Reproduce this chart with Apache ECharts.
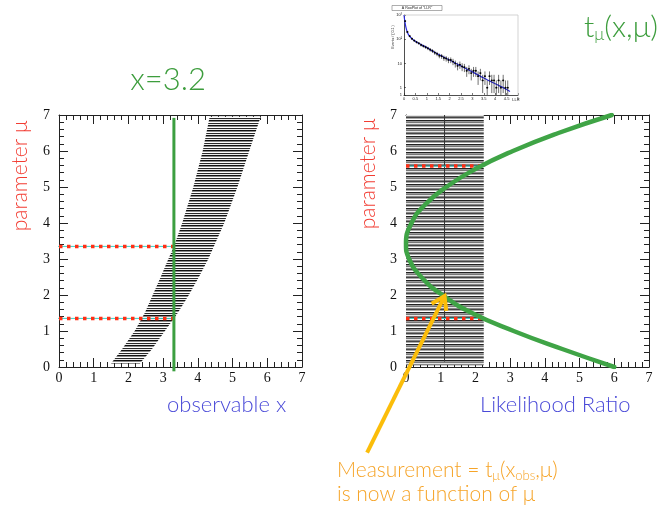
<!DOCTYPE html>
<html>
<head>
<meta charset="utf-8">
<script src="https://cdn.jsdelivr.net/npm/echarts@6/dist/echarts.min.js"></script>
<style>
html, body { margin: 0; padding: 0; background: #fff; }
#c { width: 664px; height: 508px; }
</style>
</head>
<body>
<div id="c"></div>
<script>
// ---- Neyman belt: acceptance interval in x for each value of mu ----
const beltMu   = [0.1, 0.5, 1.0, 1.5, 2.0, 2.5, 3.0, 3.35, 4.0, 5.0, 6.0, 6.95];
const beltLow  = [1.50, 1.82, 2.18, 2.47, 2.70, 2.93, 3.15, 3.31, 3.55, 3.87, 4.14, 4.34];
const beltHigh = [2.33, 2.68, 3.05, 3.42, 3.74, 4.03, 4.30, 4.46, 4.76, 5.14, 5.48, 5.81];
const xObs = 3.31;                       // observed value of x
const xObsMuRange = [-0.12, 6.92];
const muLimitsLeft = [3.35, 1.35];       // where x_obs meets the belt edges

// ---- Likelihood-ratio side ----
const lrBandMu   = [0.05, 7.0];
const lrBandLow  = [0, 0];
const lrBandHigh = [2.24, 2.24];         // acceptance cut on t
const lrCutLineT = 1.11;
const lrCutLineMu = [0.15, 7.0];
const muLimitsRight = [5.58, 1.35];
const lrRedEnd = 2.28;
const curveMu = [0, 0.5, 1.0, 1.5, 2.0, 2.5, 3.0, 3.42, 4.0, 4.5, 5.0, 5.5, 6.0, 6.5, 7.0];
const curveT  = [6.0, 4.5, 3.1, 1.9, 1.05, 0.44, 0.09, 0, 0.16, 0.54, 1.16, 2.0, 3.08, 4.39, 5.93];

// arrow: from the caption up to the measured point on the curve
const arrowTip  = [1.11, 1.97];
const arrowTail = [-1.12, -2.38];

// ---- Small RooPlot of the LLR distribution ----
const llrBins = [0.05,0.15,0.25,0.35,0.45,0.55,0.65,0.75,0.85,0.95,1.05,1.15,1.25,1.35,1.45,1.55,1.65,1.75,1.85,1.95,
                 2.05,2.15,2.25,2.35,2.45,2.55,2.65,2.75,2.85,2.95,3.05,3.15,3.25,3.35,3.45,3.55,3.65,3.75,3.85,3.95,
                 4.05,4.15,4.25,4.35,4.45,4.55];
const llrCounts = [560,200,135,105,88,76,68,58,52,47,42,37,33,28,25,21,20,17,16,14,
                   14,12,10,8,9,7.5,7,5,6,4,5,5,3,4,2,3,1,3,2,2,
                   1,2,1,2,1,1];
const llrErrors = [24,14,12,10,9,9,8,8,7,7,6.5,6,5.7,5.3,5,4.6,4.5,4.1,4,3.7,
                   3.7,3.5,3.2,2.8,3,2.7,2.6,2.2,2.4,2,2.2,2.2,1.7,2,1.4,1.7,1,1.7,1.4,1.4,
                   1,1.4,1,1.4,1,1];
const llrFitX = [0, 0.03, 0.08, 0.15, 0.25, 0.4, 0.6, 1.0, 1.5, 2.0, 2.5, 3.0, 3.5, 4.0, 4.5, 4.65];
const llrFitY = [1000, 600, 320, 190, 130, 95, 72, 45, 24, 14, 7.8, 4.5, 2.5, 1.45, 0.85, 0.7];
const llrTicks = ['0','0.5','1','1.5','2','2.5','3','3.5','4','4.5','5'];

const chart = echarts.init(document.getElementById('c'), null, { renderer: 'canvas' });

function stripes(rows) {
  const cv = document.createElement('canvas');
  cv.width = 4; cv.height = rows.length;
  const g = cv.getContext('2d');
  rows.forEach((col, i) => { g.fillStyle = col; g.fillRect(0, i, 4, 1); });
  return { image: cv, repeat: 'repeat' };
}
const beltFill = stripes(['#111', '#8a8a8a', '#fff', '#2a2a2a', '#eee']);
const lrFill   = stripes(['#222', '#999', '#777', '#e6e6e6', '#888', '#444', '#aaa', '#fff']);

const serif = '"Liberation Serif", "DejaVu Serif", serif';
const sans = 'Lato, "Liberation Sans", "Noto Sans", sans-serif';

function xAx(grid, pos, labels) {
  return {
    type: 'value', gridIndex: grid, position: pos, min: 0, max: 7, interval: 1,
    axisLine: { show: true, onZero: false, lineStyle: { color: '#222', width: 1 } },
    axisTick: { show: true, inside: true, length: 9, lineStyle: { color: '#222' } },
    minorTick: { show: true, splitNumber: 5, length: 5, lineStyle: { color: '#222' } },
    splitLine: { show: false }, minorSplitLine: { show: false },
    axisLabel: labels ? { show: true, fontFamily: serif, fontSize: 14, color: '#111', margin: 4 } : { show: false }
  };
}
function yAx(grid, pos, labels) {
  const a = xAx(grid, pos, labels);
  if (labels) a.axisLabel.margin = 9;
  return a;
}

function bandRenderer(mu, lo, hi, fill) {
  return function (params, api) {
    if (params.dataIndex !== 0) return null;
    const pts = [];
    for (let i = 0; i < mu.length; i++) pts.push(api.coord([lo[i], mu[i]]));
    for (let i = mu.length - 1; i >= 0; i--) pts.push(api.coord([hi[i], mu[i]]));
    return { type: 'polygon', shape: { points: pts }, style: { fill: fill, stroke: null } };
  };
}

function hLine(xi, yi, x0, x1, mu, style, z) {
  return {
    type: 'line', xAxisIndex: xi, yAxisIndex: yi, data: [[x0, mu], [x1, mu]],
    showSymbol: false, silent: true, clip: false, z: z, animation: false,
    lineStyle: style
  };
}
const cyan = { color: '#3ccfc6', width: 1 };
const redDots = { color: '#ff2e14', width: 3.5, type: [3.5, 4.5], cap: 'butt' };

const series = [];
// left: belt
series.push({
  type: 'custom', xAxisIndex: 0, yAxisIndex: 0, data: [[0, 0]], z: 1, silent: true,
  renderItem: bandRenderer(beltMu, beltLow, beltHigh, beltFill), animation: false
});
muLimitsLeft.forEach(m => {
  series.push(hLine(0, 0, -0.04, xObs, m, cyan, 2));
  series.push(hLine(0, 0, 0, xObs, m, redDots, 3));
});
series.push({
  type: 'line', xAxisIndex: 0, yAxisIndex: 0, clip: false, showSymbol: false, z: 4, animation: false,
  data: [[xObs, xObsMuRange[0]], [xObs, xObsMuRange[1]]],
  lineStyle: { color: '#3c9f40', width: 3 }
});
// right: LR acceptance band
series.push({
  type: 'custom', xAxisIndex: 2, yAxisIndex: 2, data: [[0, 0]], z: 1, silent: true,
  renderItem: bandRenderer(lrBandMu, lrBandLow, lrBandHigh, lrFill), animation: false
});
series.push({
  type: 'line', xAxisIndex: 2, yAxisIndex: 2, showSymbol: false, z: 2, animation: false,
  data: [[lrCutLineT, lrCutLineMu[0]], [lrCutLineT, lrCutLineMu[1]]],
  lineStyle: { color: '#333', width: 1 }
});
muLimitsRight.forEach(m => {
  series.push(hLine(2, 2, 0, lrRedEnd, m, cyan, 2));
  series.push(hLine(2, 2, 0, lrRedEnd, m, redDots, 3));
});
series.push({
  type: 'line', xAxisIndex: 2, yAxisIndex: 2, showSymbol: false, smooth: 0.5, z: 4, animation: false,
  data: curveT.map((t, i) => [t, curveMu[i]]),
  lineStyle: { color: '#3fa446', width: 4.5, cap: 'round' }
});
// inset: fit curve and data points with errors
series.push({
  type: 'line', xAxisIndex: 4, yAxisIndex: 4, showSymbol: false, smooth: 0.3, z: 3, animation: false,
  data: llrFitX.map((x, i) => [x, llrFitY[i]]),
  lineStyle: { color: '#2a2adf', width: 1.2 }
});
series.push({
  type: 'custom', xAxisIndex: 4, yAxisIndex: 4, z: 4, animation: false,
  data: llrBins.map((x, i) => [x, llrCounts[i], llrErrors[i]]),
  renderItem: function (params, api) {
    const x = api.value(0), n = api.value(1), e = api.value(2);
    const c = api.coord([x, n]);
    const top = api.coord([x, n + e]);
    const lo = n - e > 0.5 ? api.coord([x, n - e])[1] : params.coordSys.y + params.coordSys.height;
    return {
      type: 'group', children: [
        { type: 'line', shape: { x1: c[0], y1: top[1], x2: c[0], y2: lo }, style: { stroke: '#111', lineWidth: 0.6 } },
        { type: 'line', shape: { x1: c[0] - 1, y1: c[1], x2: c[0] + 1, y2: c[1] }, style: { stroke: '#111', lineWidth: 0.6 } },
        { type: 'circle', shape: { cx: c[0], cy: c[1], r: 0.9 }, style: { fill: '#000' } }
      ]
    };
  }
});

const option = {
  animation: false,
  backgroundColor: '#fff',
  grid: [
    { left: 59, top: 115, width: 243, height: 252 },
    { left: 406, top: 115, width: 243, height: 252 },
    { left: 404, top: 15, width: 114, height: 80 }
  ],
  xAxis: [
    xAx(0, 'bottom', true), xAx(0, 'top', false),
    xAx(1, 'bottom', true), xAx(1, 'top', false),
    {
      type: 'value', gridIndex: 2, min: 0, max: 5, interval: 0.5,
      axisLine: { lineStyle: { color: '#222', width: 0.8 } },
      axisTick: { inside: true, length: 2, lineStyle: { color: '#222', width: 0.6 } },
      splitLine: { show: false },
      axisLabel: { fontSize: 4, fontFamily: 'Liberation Sans', color: '#222', margin: 2,
        formatter: (v) => llrTicks[Math.round(v * 2)] }
    }
  ],
  yAxis: [
    yAx(0, 'left', true), yAx(0, 'right', false),
    yAx(1, 'left', true), yAx(1, 'right', false),
    {
      type: 'log', gridIndex: 2, min: 0.5, max: 1000, logBase: 10,
      axisLine: { show: true, onZero: false, lineStyle: { color: '#222', width: 0.8 } },
      axisTick: { inside: true, length: 2, lineStyle: { color: '#222', width: 0.6 } },
      splitLine: { show: false },
      axisLabel: { fontSize: 4, fontFamily: 'Liberation Sans', color: '#222', margin: 2,
        formatter: (v) => ({ 1: '1', 10: '10', 100: '10²', 1000: '10³' }[Math.round(v)] || '') }
    }
  ],
  series: series
};
chart.setOption(option);

// ---- annotations: text and arrow ----
const fr = { xAxisIndex: 2, yAxisIndex: 2 };
const tip = chart.convertToPixel(fr, arrowTip);
const tail = chart.convertToPixel(fr, arrowTail);
const dx = tail[0] - tip[0], dy = tail[1] - tip[1];
const len = Math.hypot(dx, dy), ux = dx / len, uy = dy / len;
const arm = 15, ang = 33 * Math.PI / 180;
function rot(a) { return [tip[0] + arm * (ux * Math.cos(a) - uy * Math.sin(a)), tip[1] + arm * (ux * Math.sin(a) + uy * Math.cos(a))]; }
const armA = rot(ang), armB = rot(-ang);
const gold = '#fbbd0a';

const leftFrame = chart.convertToPixel({ gridIndex: 2 }, [0, 1000]);
const rightFrame = chart.convertToPixel({ gridIndex: 2 }, [5, 0.5]);

chart.setOption({
  graphic: [
    // inset frame (top and right sides) and captions
    { type: 'polyline', z: 10, shape: { points: [[leftFrame[0], leftFrame[1]], [rightFrame[0], leftFrame[1]], [rightFrame[0], rightFrame[1]]] },
      style: { stroke: '#c8c8c8', lineWidth: 0.8, fill: null } },
    { type: 'rect', z: 10, shape: { x: 392, y: 5.5, width: 50, height: 5 }, style: { fill: '#fff', stroke: '#777', lineWidth: 0.6 } },
    { type: 'text', z: 11, style: { text: 'A RooPlot of "LLR"', x: 417, y: 8, fontSize: 3.6, fontFamily: 'Liberation Sans', fill: '#222', align: 'center', verticalAlign: 'middle' } },
    { type: 'text', z: 11, rotation: Math.PI / 2, x: 393, y: 37, style: { text: 'Events / ( 0.1 )', fontSize: 3.6, fontFamily: 'Liberation Sans', fill: '#222', align: 'center', verticalAlign: 'middle' } },
    { type: 'text', z: 11, style: { text: 'LLR', x: 516, y: 100, fontSize: 4, fontFamily: 'Liberation Sans', fill: '#222', align: 'center', verticalAlign: 'middle' } },

    // slide titles
    { type: 'text', z: 20, style: { text: 'x=3.2', x: 168, y: 80, fontSize: 31, fontFamily: sans, fontWeight: 300, fill: '#3d9d3d', align: 'center', verticalAlign: 'middle' } },
    { type: 'text', z: 20, style: {
        text: '{m|t}{s|μ}{m|(x,μ)}', x: 584, y: 27, align: 'left', verticalAlign: 'middle',
        rich: {
          m: { fontSize: 30, fontFamily: sans, fontWeight: 300, fill: '#3d9d3d', lineHeight: 32 },
          s: { fontSize: 17, fontFamily: sans, fontWeight: 300, fill: '#3d9d3d', verticalAlign: 'bottom', lineHeight: 22 }
        } } },
    { type: 'text', z: 20, rotation: Math.PI / 2, x: 20, y: 176, style: { text: 'parameter μ', fontSize: 21, fontFamily: sans, fontWeight: 300, fill: '#f23c32', align: 'center', verticalAlign: 'middle' } },
    { type: 'text', z: 20, rotation: Math.PI / 2, x: 368, y: 174, style: { text: 'parameter μ', fontSize: 21, fontFamily: sans, fontWeight: 300, fill: '#f23c32', align: 'center', verticalAlign: 'middle' } },
    { type: 'text', z: 20, style: { text: 'observable x', x: 167, y: 405, fontSize: 22, fontFamily: sans, fontWeight: 300, fill: '#4a4ad8', align: 'left', verticalAlign: 'middle' } },
    { type: 'text', z: 20, style: { text: 'Likelihood Ratio', x: 480, y: 405, fontSize: 22, fontFamily: sans, fontWeight: 300, fill: '#4a4ad8', align: 'left', verticalAlign: 'middle' } },
    { type: 'text', z: 20, style: {
        text: '{m|Measurement = t}{s|μ}{m|(x}{s|obs}{m|,μ)}', x: 337, y: 470, align: 'left', verticalAlign: 'middle',
        rich: {
          m: { fontSize: 21, fontFamily: sans, fontWeight: 300, fill: '#f6a428', lineHeight: 24 },
          s: { fontSize: 13, fontFamily: sans, fontWeight: 300, fill: '#f6a428', verticalAlign: 'bottom', lineHeight: 18 }
        } } },
    { type: 'text', z: 20, style: { text: 'is now a function of μ', x: 337, y: 494, fontSize: 21, fontFamily: sans, fontWeight: 300, fill: '#f6a428', align: 'left', verticalAlign: 'middle' } },

    // arrow
    { type: 'line', z: 30, shape: { x1: tail[0], y1: tail[1], x2: tip[0], y2: tip[1] }, style: { stroke: gold, lineWidth: 4, lineCap: 'butt' } },
    { type: 'polyline', z: 30, shape: { points: [armA, tip, armB] }, style: { stroke: gold, lineWidth: 4, fill: null, lineJoin: 'miter' } }
  ]
});
</script>
</body>
</html>
